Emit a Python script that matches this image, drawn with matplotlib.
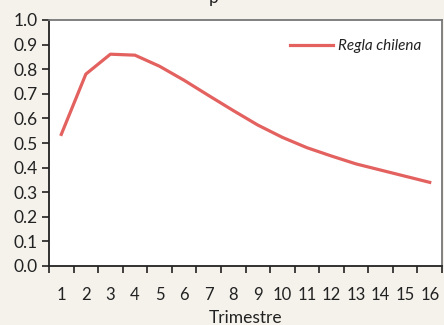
import matplotlib.pyplot as plt
import numpy as np

plt.rcParams['font.family'] = ['Lato', 'DejaVu Sans']

trimestres = list(range(1, 17))
regla_chilena = [0.535, 0.78, 0.861, 0.857, 0.812, 0.755, 0.693, 0.632,
                 0.573, 0.523, 0.481, 0.447, 0.415, 0.39, 0.365, 0.34]

bg = '#f5f2ec'
fig = plt.figure(figsize=(4.44, 3.25), dpi=100, facecolor=bg)
ax = fig.add_axes([49 / 444, 1 - 266 / 325, 393 / 444, 246 / 325])
ax.set_facecolor('white')

ax.plot(trimestres, regla_chilena, color='#e3615f', lw=2.3, label='Regla chilena')

ax.set_xlim(0.5, 16.5)
ax.set_ylim(0, 1.0)
ax.set_yticks(np.arange(0, 1.01, 0.1))
ax.set_yticklabels([f'{v:.1f}' for v in np.arange(0, 1.01, 0.1)])

# major ticks at boundaries (no labels), labels centred on categories
ax.set_xticks(np.arange(0.5, 17, 1))
ax.set_xticklabels([])
ax.set_xticks(trimestres, minor=True)
ax.set_xticklabels([str(t) for t in trimestres], minor=True)
ax.tick_params(axis='x', which='minor', length=0, pad=15, labelsize=12, colors='#222222')
ax.tick_params(axis='x', which='major', length=5, width=1.2, direction='out', color='#222222')
ax.tick_params(axis='y', length=5, width=1.2, direction='out', labelsize=12.5,
               color='#222222', labelcolor='#222222', pad=3)

for s in ['left', 'bottom']:
    ax.spines[s].set_color('#222222')
    ax.spines[s].set_linewidth(1.3)
for s in ['top', 'right']:
    ax.spines[s].set_color('#777777')
    ax.spines[s].set_linewidth(1.3)

ax.set_xlabel('Trimestre', fontsize=12.5, color='#222222', labelpad=5)

leg = ax.legend(loc='center right', frameon=False, fontsize=11,
                bbox_to_anchor=(0.947, 0.894), handlelength=2.8, handletextpad=0.35,
                borderpad=0, borderaxespad=0)
for t in leg.get_texts():
    t.set_fontstyle('italic')
    t.set_color('#222222')

# title clipped by the top of the image
fig.text(0.482, 1 - 3 / 325, 'p', ha='center', va='baseline', fontsize=12.5, color='#222222')

fig.savefig('out.png', dpi=100, facecolor=bg)
